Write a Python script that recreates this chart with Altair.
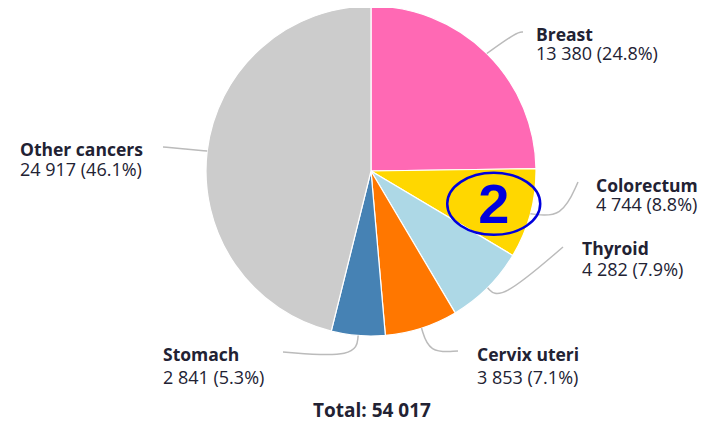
import math
import altair as alt
import pandas as pd

# ---- data ----
categories = ["Breast", "Colorectum", "Thyroid", "Cervix uteri", "Stomach", "Other cancers"]
counts = [13380, 4744, 4282, 3853, 2841, 24917]
colors = ["#FF69B4", "#FFD700", "#ADD8E6", "#FF7700", "#4682B4", "#CCCCCC"]

# ---- layout (pixels relative to pie centre, y downwards) ----
W, H = 691, 414
CX, CY = 363, 163
R = 165
# connector bend / end points for each label
connector_pts = {
    "Breast": [(146, -139), (152, -139)],
    "Colorectum": [(191, 47), (207, 11)],
    "Thyroid": [(129, 130), (192, 76)],
    "Cervix uteri": [(58, 182), (87, 180)],
    "Stomach": [(-15, 187), (-88, 181)],
    "Other cancers": [(-186, -22), (-208, -24)],
}
# label anchor: left x, name baseline, value baseline
label_pos = {
    "Breast": (165, -130, -111),
    "Colorectum": (225, 21, 40),
    "Thyroid": (211, 84, 105),
    "Cervix uteri": (106, 190, 213),
    "Stomach": (-208, 190, 213),
    "Other cancers": (-351, -15, 5),
}

total = sum(counts)
fmt = lambda v: f"{v:,}".replace(",", " ")

pie = pd.DataFrame({"cat": categories, "value": counts, "idx": range(len(categories))})
cum = 0
mids = {}
for c, v in zip(categories, counts):
    mids[c] = (cum + v / 2) / total * 2 * math.pi
    cum += v

line_rows, name_rows, val_rows = [], [], []
for c, v in zip(categories, counts):
    a = mids[c]
    pts = [(R * math.sin(a), -R * math.cos(a))] + connector_pts[c]
    for i, (px, py) in enumerate(pts):
        line_rows.append({"cat": c, "seq": i, "x": px, "y": py})
    lx, ly1, ly2 = label_pos[c]
    name_rows.append({"x": lx, "y": ly1, "t": c})
    val_rows.append({"x": lx, "y": ly2, "t": f"{fmt(v)} ({v / total * 100:.1f}%)"})

lines = pd.DataFrame(line_rows)
names = pd.DataFrame(name_rows)
vals = pd.DataFrame(val_rows)

a_col = mids["Colorectum"]
annot = pd.DataFrame({"x": [0.77 * R * math.sin(a_col)], "y": [-0.77 * R * math.cos(a_col)], "t": ["2"]})
tot = pd.DataFrame({"x": [1], "y": [246], "t": [f"Total: {fmt(total)}"]})

xs = alt.Scale(domain=[-CX, W - CX], nice=False, zero=False)
ys = alt.Scale(domain=[-CY, H - CY], nice=False, zero=False, reverse=True)
X = lambda f: alt.X(f, type="quantitative", scale=xs, axis=None)
Y = lambda f: alt.Y(f, type="quantitative", scale=ys, axis=None)

FONT = "Open Sans"
TXT = "#222233"
FS = 18

arcs = alt.Chart(pie).mark_arc(outerRadius=R, stroke="white", strokeWidth=1.2).encode(
    theta=alt.Theta("value:Q", stack=True),
    color=alt.Color("cat:N", scale=alt.Scale(domain=categories, range=colors), legend=None),
    order=alt.Order("idx:Q"),
    x=alt.XDatum(0, type="quantitative", scale=xs, axis=None),
    y=alt.YDatum(0, type="quantitative", scale=ys, axis=None),
)

conn = alt.Chart(lines).mark_line(interpolate="basis", color="#BBBBBB", strokeWidth=1.5).encode(
    x=X("x"), y=Y("y"), detail="cat:N", order="seq:Q"
)

name_txt = alt.Chart(names).mark_text(
    align="left", baseline="alphabetic", font=FONT, fontSize=17.5, fontWeight="bold", color=TXT
).encode(x=X("x"), y=Y("y"), text="t:N")

val_txt = alt.Chart(vals).mark_text(
    align="left", baseline="alphabetic", font=FONT, fontSize=FS, color=TXT
).encode(x=X("x"), y=Y("y"), text="t:N")

tot_txt = alt.Chart(tot).mark_text(
    align="center", baseline="alphabetic", font=FONT, fontSize=FS + 1, fontWeight="bold", color=TXT
).encode(x=X("x"), y=Y("y"), text="t:N")

ellipse = alt.Chart(annot).mark_point(
    shape="M -1 0 A 1 0.667 0 1 1 1 0 A 1 0.667 0 1 1 -1 0 Z",
    size=93 * 93, filled=False, stroke="#0000DD", strokeWidth=2.5, opacity=1,
).encode(x=X("x"), y=Y("y"))

two = alt.Chart(annot).mark_text(
    align="center", baseline="middle", font="Liberation Sans", fontSize=56, fontWeight="bold",
    color="#0000DD", dy=2,
).encode(x=X("x"), y=Y("y"), text="t:N")

chart = alt.layer(arcs, conn, name_txt, val_txt, tot_txt, ellipse, two).properties(
    width=W, height=H, autosize="none", padding=0
).configure_view(stroke=None)

chart.save("out.html", embed_options={"renderer": "svg", "actions": False})
